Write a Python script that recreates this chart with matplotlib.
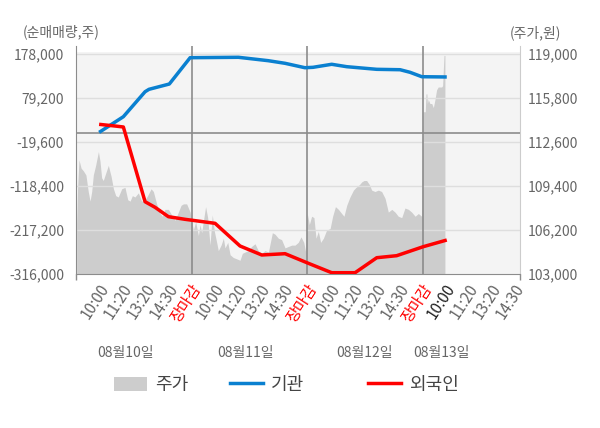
import matplotlib
matplotlib.use('Agg')
import matplotlib.pyplot as plt
import matplotlib.transforms as mtransforms
from matplotlib.patches import Patch
from matplotlib.lines import Line2D

plt.rcParams['font.family'] = ['Noto Sans CJK KR', 'DejaVu Sans']

# ---------------- data ----------------
# x positions are in "label slot" units: each trading day spans 5 slots
price_x = [0.03, 0.07, 0.13, 0.22, 0.32, 0.43, 0.53, 0.61, 0.68, 0.75, 0.85, 0.97, 1.04, 1.11, 1.18,
           1.28, 1.40, 1.52, 1.62, 1.72, 1.83, 1.98, 2.12, 2.24, 2.34, 2.44, 2.55, 2.70, 2.84, 2.99,
           3.10, 3.25, 3.35, 3.49, 3.64, 3.74, 3.85, 4.00, 4.14, 4.29, 4.43, 4.55, 4.65, 4.79, 4.94,
           4.98, 5.08, 5.18, 5.30, 5.37, 5.44, 5.51, 5.61, 5.70, 5.80, 5.90, 5.99, 6.09, 6.16, 6.28,
           6.38, 6.45, 6.57, 6.67, 6.81, 6.96, 7.10, 7.20, 7.32, 7.46, 7.60, 7.75, 7.89, 8.04, 8.18,
           8.33, 8.50, 8.61, 8.76, 8.90, 9.05, 9.19, 9.34, 9.48, 9.62, 9.74, 9.86, 9.94,
           10.01, 10.10, 10.20, 10.30, 10.39, 10.49, 10.59, 10.71, 10.85, 11.00, 11.11, 11.23, 11.36,
           11.50, 11.60, 11.72, 11.86, 12.01, 12.12, 12.27, 12.37, 12.47, 12.58, 12.70, 12.80, 12.94,
           13.09, 13.23, 13.38, 13.52, 13.67, 13.81, 13.95, 14.10, 14.24, 14.39, 14.53, 14.68, 14.82,
           14.96,
           15.03, 15.12, 15.15, 15.19, 15.21, 15.25, 15.32, 15.40, 15.47, 15.54, 15.61, 15.68, 15.83,
           15.87, 15.90, 15.93, 15.97]
price = [106600, 109300, 111300, 110700, 110500, 110200, 109000, 108300, 109000, 110200, 110900,
         111900, 111200, 110000, 109800, 110300, 110900, 110100, 109200, 108700, 108600, 109200,
         109300, 108400, 108300, 108700, 108600, 108900, 108300, 108400, 108700, 109200, 109000,
         108100, 107400, 107200, 107700, 107700, 107300, 106900, 107500, 108000, 108100, 108100,
         107500,
         107100, 106200, 106800, 105800, 106600, 106000, 106800, 107900, 107100, 105100, 107300,
         106100, 105300, 104700, 105100, 105600, 104900, 105300, 104400, 104200, 104100, 104000,
         104500, 104600, 104700, 105000, 105200, 104700, 104500, 104700, 104600, 106000, 105900,
         105600, 105500, 104900, 105000, 105100, 105100, 105300, 105700, 105300, 104600,
         107400, 106600, 107200, 107100, 105600, 106100, 105300, 105600, 106200, 106300, 107200,
         107900, 107700, 107400, 107200, 108000, 108600, 109100, 109300, 109500, 109700, 109800,
         109800, 109500, 109100, 109000, 109100, 109000, 108500, 107500, 107700, 107500, 107200,
         107100, 107800, 107700, 107500, 107200, 107400, 107200,
         114800, 114800, 116100, 116100, 115400, 115700, 115400, 115400, 115100, 115700, 116400,
         116600, 116600, 116700, 117800, 118900, 118900]

inst_x = [1.00, 2.05, 2.99, 3.16, 4.04, 4.94, 7.03, 8.32, 9.05, 9.91, 10.26, 11.07, 11.72,
          13.02, 14.03, 14.46, 14.97, 16.05]
inst = [2000, 37200, 93300, 98700, 110600, 169700, 170600, 163000, 157100, 147200, 148100,
        154900, 149500, 143600, 142700, 136900, 127000, 126400]

frgn_x = [1.00, 1.69, 2.05, 2.99, 3.42, 4.00, 4.72, 6.02, 7.10, 8.04, 9.05, 10.06, 11.07,
          12.08, 13.02, 13.88, 15.03, 16.05]
frgn = [20100, 16300, 14100, -153700, -166200, -187300, -193200, -202200, -253100, -273300,
        -270400, -292000, -313100, -313100, -279400, -274900, -254700, -239700]

left_ticks = [178000, 79200, -19600, -118400, -217200, -316000]
right_ticks = [119000, 115800, 112600, 109400, 106200, 103000]
xtick_labels = ['10:00', '11:20', '13:20', '14:30', '장마감',
                '10:00', '11:20', '13:20', '14:30', '장마감',
                '10:00', '11:20', '13:20', '14:30', '장마감',
                '10:00', '11:20', '13:20', '14:30']
day_labels = ['08월10일', '08월11일', '08월12일', '08월13일']
legend_labels = ['주가', '기관', '외국인']

# ---------------- figure ----------------
W, H = 600, 428
fig = plt.figure(figsize=(W / 100, H / 100), dpi=100)


def fx(px):
    return px / W


def fy(py):
    return 1 - py / H


ax = fig.add_axes([fx(76), fy(274), fx(520) - fx(76), fy(46) - fy(274)])
ax2 = ax.twinx()

ppx_r = (right_ticks[0] - right_ticks[-1]) / 220.0
ppx_l = (left_ticks[0] - left_ticks[-1]) / 220.0
ax.set_ylim(right_ticks[-1], right_ticks[0] + 8 * ppx_r)
ax2.set_ylim(left_ticks[-1], left_ticks[0] + 8 * ppx_l)
xmax = 19.22
ax.set_xlim(0, xmax)

ax.set_facecolor('white')
ax.axhspan(right_ticks[-1], right_ticks[0] + 2 * ppx_r, color='#f4f4f4', lw=0, zorder=0)

ax.fill_between(price_x, right_ticks[-1], price, color='#cdcdcd', lw=0, zorder=1)

for t in right_ticks[1:-1] + [right_ticks[0]]:
    ax.axhline(t, color='#dedede', lw=1.0, zorder=2)
for d in [5, 10, 15]:
    ax.axvline(d, color='#8c8c8c', lw=1.2, zorder=3)

ax2.axhline(0, color='#8c8c8c', lw=1.2, zorder=1)
ax2.plot(inst_x, inst, color='#0a80d0', lw=2.5, zorder=3, solid_capstyle='butt')
ax2.plot(frgn_x, frgn, color='#ff0000', lw=2.5, zorder=4, solid_capstyle='butt')

# spines
for a in (ax, ax2):
    a.spines['top'].set_visible(False)
for s in ('left', 'right', 'bottom'):
    ax2.spines[s].set_visible(False)
ax.spines['left'].set_color('#8c8c8c')
ax.spines['right'].set_color('#cccccc')
ax.spines['bottom'].set_color('#8c8c8c')

# y ticks
ax.yaxis.tick_right()
ax.set_yticks(right_ticks)
ax.set_yticklabels([f'{v:,}' for v in right_ticks])
ax.tick_params(axis='y', length=0, pad=5.5, labelsize=10, labelcolor='#666666')
ax2.yaxis.tick_left()
ax2.set_yticks(left_ticks)
ax2.set_yticklabels([f'{v:,}' for v in left_ticks])
ax2.tick_params(axis='y', length=0, pad=8.5, labelsize=10, labelcolor='#666666')

# x ticks
pos = list(range(1, len(xtick_labels) + 1))
ax.set_xticks(pos)
ax.set_xticklabels(xtick_labels, rotation=57, ha='right', va='top', rotation_mode='anchor')
ax.tick_params(axis='x', length=0, pad=5, labelsize=11)
shift = mtransforms.ScaledTranslation(-1 / 100, 0, fig.dpi_scale_trans)
for i, lbl in enumerate(ax.get_xticklabels()):
    lbl.set_transform(lbl.get_transform() + shift)
    if xtick_labels[i] == '장마감':
        lbl.set_color('#ff0000')
    elif i == 15:
        lbl.set_color('#222222')
    else:
        lbl.set_color('#666666')
ax.set_xticks([0, 5, 10, 15, xmax], minor=True)
ax.tick_params(axis='x', which='minor', length=4, color='#8c8c8c', width=1)

# date labels
for x, t in zip([125, 245, 365, 441], day_labels):
    fig.text(fx(x), fy(353), t, ha='center', va='center', fontsize=10, color='#666666')

fig.text(fx(61), fy(32), '(순매매량,주)', ha='center', va='center', fontsize=10, color='#666666')
fig.text(fx(535), fy(33), '(주가,원)', ha='center', va='center', fontsize=10, color='#666666')

# legends
handles = [Patch(facecolor='#cdcdcd', edgecolor='none'),
           Line2D([], [], color='#0a80d0', lw=2.5),
           Line2D([], [], color='#ff0000', lw=2.5)]
for h, lab, x in zip(handles, legend_labels, [114, 230, 368]):
    leg = fig.legend([h], [lab], loc='center left', bbox_to_anchor=(fx(x), fy(385)),
                     frameon=False, borderpad=0, borderaxespad=0, handlelength=1.8,
                     handleheight=0.8, handletextpad=0.45, fontsize=13)
    for txt in leg.get_texts():
        txt.set_color('#444444')

fig.savefig('out.png', dpi=100)
